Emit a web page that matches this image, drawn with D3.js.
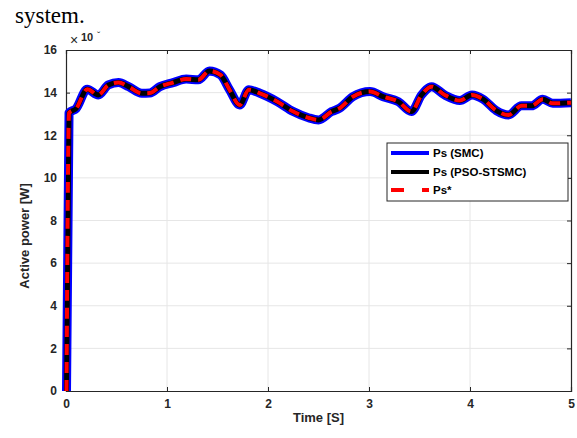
<!DOCTYPE html>
<html><head><meta charset="utf-8">
<script src="https://cdn.jsdelivr.net/npm/d3@7"></script>
<style>
body{margin:0;background:#fff;}
svg{display:block;font-family:"Liberation Sans",Arial,sans-serif;}
</style></head><body>
<svg id="c" width="577" height="438"></svg>
<script>
const timeS = [0.005,0.03,0.1,0.21,0.32,0.42,0.52,0.62,0.75,0.83,0.93,1.06,1.19,1.31,1.42,1.53,1.62,1.72,1.81,1.92,2.09,2.25,2.40,2.50,2.63,2.71,2.84,3.01,3.14,3.29,3.42,3.52,3.62,3.75,3.90,4.02,4.13,4.26,4.38,4.51,4.61,4.72,4.82,5.0];
const psValues = [0,13.05,13.25,14.16,13.89,14.36,14.47,14.28,13.97,13.98,14.28,14.47,14.64,14.6,15.02,14.83,14.13,13.42,14.13,13.97,13.58,13.11,12.82,12.72,13.11,13.27,13.81,14.05,13.81,13.58,13.11,13.89,14.28,13.89,13.63,13.89,13.69,13.16,12.95,13.38,13.38,13.69,13.5,13.53];
const xTicks = [0,1,2,3,4,5];
const yTicks = [0,2,4,6,8,10,12,14,16];
const seriesNames = ["Ps (SMC)","Ps (PSO-STSMC)","Ps*"];

const svg = d3.select("#c");
const L=66, R=571, T=50, B=391;
const x = d3.scaleLinear().domain([0,5]).range([L,R]);
const y = d3.scaleLinear().domain([0,16]).range([B,T]);

svg.append("text").attr("x",15).attr("y",23).attr("font-family","'Liberation Serif','Times New Roman',serif")
  .attr("font-size",23).attr("fill","#000").text("system.");

// grid
const g = svg.append("g");
g.selectAll(".gx").data(xTicks.slice(1,-1)).enter().append("line")
  .attr("x1",d=>x(d)).attr("x2",d=>x(d)).attr("y1",T).attr("y2",B).attr("stroke","#e6e6e6").attr("stroke-width",1);
g.selectAll(".gy").data(yTicks.slice(1,-1)).enter().append("line")
  .attr("y1",d=>y(d)).attr("y2",d=>y(d)).attr("x1",L).attr("x2",R).attr("stroke","#e6e6e6").attr("stroke-width",1);

// axes
const xa = svg.append("g").attr("transform",`translate(0,${B})`)
  .call(d3.axisBottom(x).tickValues(xTicks).tickSize(-4).tickPadding(8).tickFormat(d3.format("d")));
const xt = svg.append("g").attr("transform",`translate(0,${T})`)
  .call(d3.axisTop(x).tickValues(xTicks).tickSize(-4).tickFormat(""));
const ya = svg.append("g").attr("transform",`translate(${L},0)`)
  .call(d3.axisLeft(y).tickValues(yTicks).tickSize(-4).tickPadding(9).tickFormat(d3.format("d")));
const yr = svg.append("g").attr("transform",`translate(${R},0)`)
  .call(d3.axisRight(y).tickValues(yTicks).tickSize(-4).tickFormat(""));
[xa,xt,ya,yr].forEach(a=>{
  a.select(".domain").attr("stroke","#262626").attr("stroke-width",1.2);
  a.selectAll(".tick line").attr("stroke","#262626");
  a.selectAll("text").attr("font-size",12).attr("font-weight","bold").attr("fill","#262626");
});

const pts = timeS.map((t,i)=>[t,psValues[i]]);
const line = d3.line().x(d=>x(d[0])).y(d=>y(d[1])).curve(d3.curveMonotoneX);
const lg = svg.append("g");
lg.append("path").datum(pts).attr("d",line).attr("fill","none").attr("stroke","#0000ff").attr("stroke-width",9).attr("stroke-linejoin","round");
lg.append("path").datum(pts).attr("d",line).attr("fill","none").attr("stroke","#000").attr("stroke-width",5).attr("stroke-linejoin","round");
lg.append("path").datum(pts).attr("d",line).attr("fill","none").attr("stroke","#ff0000").attr("stroke-width",4).attr("stroke-dasharray","11,7");

// exponent label
svg.append("text").attr("x",70).attr("y",45).attr("font-size",14).attr("fill","#262626").text("×");
svg.append("text").attr("x",81).attr("y",41).attr("font-size",11).attr("font-weight","bold").attr("fill","#262626").text("10");
svg.append("text").attr("x",97).attr("y",40).attr("font-size",10).attr("fill","#262626").text("ˇ");

// axis labels
svg.append("text").attr("x",(L+R)/2).attr("y",422).attr("text-anchor","middle").attr("font-size",13).attr("font-weight","bold").attr("fill","#262626").text("Time [S]");
svg.append("text").attr("transform","translate(29,236) rotate(-90)").attr("text-anchor","middle").attr("font-size",13).attr("font-weight","bold").attr("fill","#262626").text("Active power [W]");

// legend
const lgd = svg.append("g");
lgd.append("rect").attr("x",387).attr("y",143).attr("width",181).attr("height",58).attr("fill","#fff").attr("stroke","#262626").attr("stroke-width",1);
const ly = [153,172,190];
const styles = [{c:"#0000ff",w:4,d:null},{c:"#000",w:4,d:null},{c:"#ff0000",w:4,d:"13,18"}];
seriesNames.forEach((n,i)=>{
  lgd.append("line").attr("x1",391).attr("x2",429).attr("y1",ly[i]).attr("y2",ly[i]).attr("stroke",styles[i].c).attr("stroke-width",styles[i].w).attr("stroke-dasharray",styles[i].d);
  lgd.append("text").attr("x",433).attr("y",ly[i]+4).attr("font-size",11.5).attr("font-weight","bold").attr("fill","#000").text(n);
});
</script>
</body></html>
